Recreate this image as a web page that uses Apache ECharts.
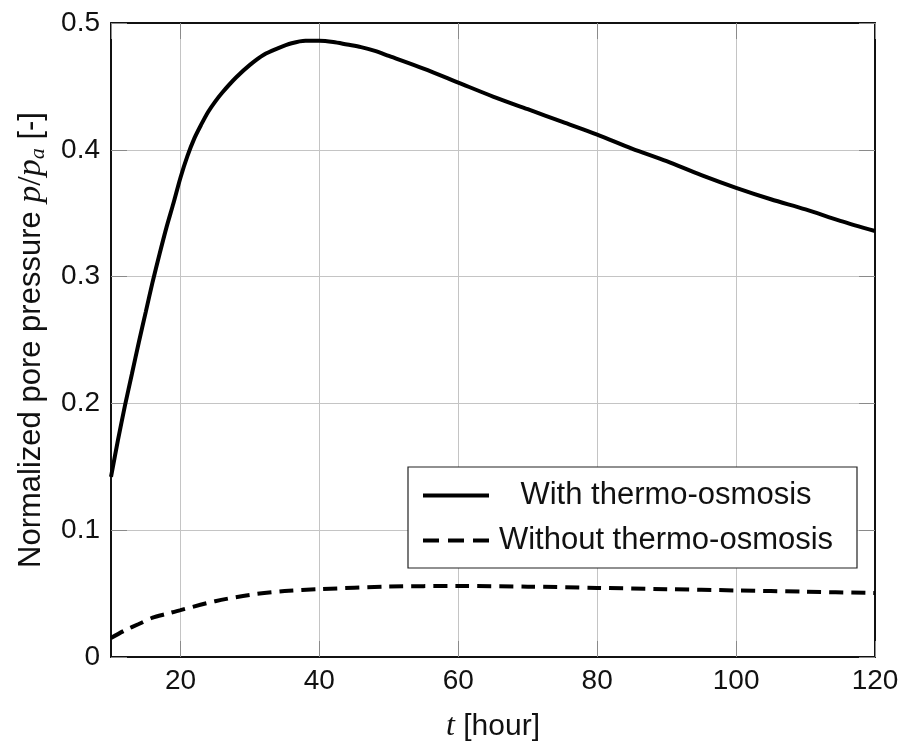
<!DOCTYPE html>
<html>
<head>
<meta charset="utf-8">
<title>Normalized pore pressure</title>
<script src="https://cdn.jsdelivr.net/npm/echarts@6/dist/echarts.min.js"></script>
<style>
  html, body { margin: 0; padding: 0; background: #ffffff; }
  #chart { width: 904px; height: 743px; }
</style>
</head>
<body>
<div id="chart"></div>
<script>
// Time samples [hour]
const tSolid = [10, 11, 12, 13, 14, 15, 16, 17, 18, 19, 20, 21, 22, 23, 24, 25, 26, 28, 30, 32, 34, 36, 38, 40, 42, 44, 46, 48, 50, 55, 60, 65, 70, 75, 80, 85, 90, 95, 100, 105, 110, 115, 120];
// Normalized pore pressure p/p_a with thermo-osmosis
const withOsmosis = [0.142, 0.171, 0.198, 0.223, 0.248, 0.272, 0.296, 0.318, 0.339, 0.358, 0.378, 0.395, 0.409, 0.420, 0.430, 0.438, 0.445, 0.457, 0.467, 0.475, 0.480, 0.484, 0.486, 0.486, 0.485, 0.483, 0.481, 0.478, 0.474, 0.464, 0.453, 0.442, 0.432, 0.422, 0.412, 0.401, 0.391, 0.380, 0.370, 0.361, 0.353, 0.344, 0.336];

const tDashed = [10, 12, 14, 16, 18, 20, 25, 30, 35, 40, 50, 60, 70, 80, 90, 100, 110, 120];
// Normalized pore pressure p/p_a without thermo-osmosis
const withoutOsmosis = [0.015, 0.021, 0.026, 0.031, 0.034, 0.037, 0.044, 0.049, 0.052, 0.0535, 0.0555, 0.056, 0.0555, 0.0545, 0.0535, 0.0525, 0.0515, 0.0505];

const seriesNames = ['With thermo-osmosis', 'Without thermo-osmosis'];

// Legend line samples: a solid bar and three dashes
const legendIcons = [
  'path://M0,0H66V4H0Z',
  'path://M0,0H16V4H0Z M25,0H41V4H25Z M50,0H66V4H50Z'
];

const FONT = '"Liberation Sans", Arial, Helvetica, sans-serif';
const MATH = '"Liberation Serif", "DejaVu Serif", serif';

const pairs = (xs, ys) => xs.map((x, i) => [x, ys[i]]);

const gridColor = '#c4c4c4';
const tickColor = '#8a8a8a';

const xBase = {
  type: 'value', min: 10, max: 120, splitNumber: 5,
  axisLine: { show: true, onZero: false, lineStyle: { color: '#111', width: 2 } },
  axisTick: { show: true, inside: true, length: 16, lineStyle: { color: tickColor, width: 1 } }
};
const yBase = {
  type: 'value', min: 0, max: 0.5, interval: 0.1,
  axisLine: { show: true, onZero: false, lineStyle: { color: '#111', width: 2 } },
  axisTick: { show: true, inside: true, length: 16, lineStyle: { color: tickColor, width: 1 } }
};

const chart = echarts.init(document.getElementById('chart'), null, { renderer: 'canvas' });

chart.setOption({
  backgroundColor: '#ffffff',
  animation: false,
  grid: { left: 111, right: 29, top: 23, bottom: 86, containLabel: false, outerBoundsMode: 'none' },
  xAxis: [
    Object.assign({}, xBase, {
      position: 'bottom',
      axisLabel: { showMinLabel: false, margin: 10, color: '#111', fontSize: 28, fontFamily: FONT },
      splitLine: { show: true, lineStyle: { color: gridColor, width: 1 } },
      name: '{i|t} [hour]',
      nameLocation: 'middle',
      nameGap: 54,
      nameTextStyle: {
        color: '#111', fontSize: 30, fontFamily: FONT,
        rich: { i: { fontFamily: MATH, fontStyle: 'italic', fontSize: 32, color: '#111' } }
      }
    }),
    Object.assign({}, xBase, {
      position: 'top',
      axisLabel: { show: false },
      splitLine: { show: false }
    })
  ],
  yAxis: [
    Object.assign({}, yBase, {
      position: 'left',
      axisLabel: { margin: 11, color: '#111', fontSize: 28, fontFamily: FONT },
      splitLine: { show: true, lineStyle: { color: gridColor, width: 1 } },
      name: 'Normalized pore pressure {i|p}{m|/}{i|p}{s|a} [-]',
      nameLocation: 'middle',
      nameGap: 62,
      nameTextStyle: {
        color: '#111', fontSize: 31, fontFamily: FONT, lineHeight: 36,
        rich: {
          i: { fontFamily: MATH, fontStyle: 'italic', fontSize: 34, color: '#111', lineHeight: 36 },
          m: { fontFamily: MATH, fontSize: 34, color: '#111', lineHeight: 36 },
          s: { fontFamily: MATH, fontStyle: 'italic', fontSize: 22, color: '#111', lineHeight: 22, verticalAlign: 'bottom' }
        }
      }
    }),
    Object.assign({}, yBase, {
      position: 'right',
      axisLabel: { show: false },
      splitLine: { show: false }
    })
  ],
  legend: {
    orient: 'vertical',
    left: 408,
    top: 467,
    padding: [13, 19, 12, 15],
    itemGap: 14,
    itemWidth: 66,
    itemHeight: 4,
    backgroundColor: '#ffffff',
    borderColor: '#222',
    borderWidth: 1.2,
    formatter: (name) => '{n|' + name + '}',
    textStyle: {
      color: '#111', fontSize: 31, fontFamily: FONT,
      rich: { n: { width: 344, align: 'center', fontSize: 31, fontFamily: FONT, lineHeight: 30, color: '#111' } }
    },
    data: seriesNames.map((name, i) => ({ name: name, icon: legendIcons[i], itemStyle: { color: '#000' } }))
  },
  series: [
    {
      name: seriesNames[0],
      type: 'line',
      data: pairs(tSolid, withOsmosis),
      symbol: 'none',
      smooth: 0.3,
      lineStyle: { color: '#000', width: 4, type: 'solid' },
      itemStyle: { color: '#000' },
      z: 5
    },
    {
      name: seriesNames[1],
      type: 'line',
      data: pairs(tDashed, withoutOsmosis),
      symbol: 'none',
      smooth: 0.3,
      lineStyle: { color: '#000', width: 4, type: [14, 8], cap: 'butt' },
      itemStyle: { color: '#000' },
      z: 5
    }
  ]
});
</script>
</body>
</html>
